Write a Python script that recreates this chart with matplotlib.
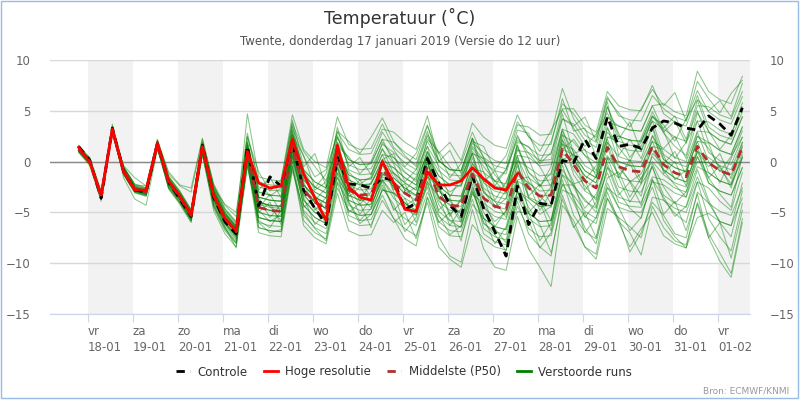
import pandas as pd
import matplotlib
matplotlib.use("Agg")
import matplotlib.pyplot as plt
from matplotlib.lines import Line2D
from matplotlib.patches import Rectangle

# tijdstippen (lokale tijd), elke 6 uur vanaf run 17-01 12 UTC
tijden = pd.date_range("2019-01-17 19:00", periods=60, freq="6h")
dagen = pd.date_range("2019-01-18", "2019-02-01", freq="D")
dag_labels = ["vr\n18-01", "za\n19-01", "zo\n20-01", "ma\n21-01", "di\n22-01",
              "wo\n23-01", "do\n24-01", "vr\n25-01", "za\n26-01", "zo\n27-01",
              "ma\n28-01", "di\n29-01", "wo\n30-01", "do\n31-01", "vr\n01-02"]

controle = [1.5, 0.1, -3.6, 3.3, -1.0, -2.8, -3.0, 1.8, -2.0, -3.7, -5.4, 1.6, -3.5, -5.9, -7.1, 1.5,
            -4.4, -1.5, -2.4, 1.8, -2.8, -4.6, -6.2, 0.4, -2.2, -2.3, -2.6, -1.6, -1.8, -4.7, -4.1, 0.3,
            -2.1, -4.3, -5.4, -1.4, -4.6, -6.9, -9.3, -2.4, -6.2, -4.1, -4.3, 0.1, -0.1, 2.2, 0.3, 4.4,
            1.5, 1.7, 1.3, 3.3, 4.0, 3.8, 3.3, 3.1, 4.5, 3.7, 2.6, 5.3]
hoge_resolutie = [1.4, -0.1, -3.3, 3.2, -1.0, -2.8, -2.8, 1.8, -1.9, -3.4, -5.2, 1.5, -3.3, -5.6, -6.8, 1.0,
                  -2.1, -2.6, -2.4, 2.2, -1.2, -3.6, -5.8, 1.6, -2.5, -3.5, -3.8, 0.0, -2.1, -4.7, -4.9, -1.0,
                  -2.3, -2.3, -1.9, -0.6, -1.7, -2.6, -2.8, -1.2]
middelste = [1.2, 0.0, -3.5, 3.1, -0.9, -2.7, -3.0, 1.7, -2.0, -3.5, -5.3, 1.4, -3.3, -5.6, -6.9, 1.0,
             -4.5, -4.8, -4.9, 1.6, -2.8, -4.0, -4.6, 0.4, -2.8, -3.3, -3.2, -0.8, -2.1, -3.1, -3.8, -0.5,
             -3.4, -4.3, -4.4, -1.2, -3.6, -4.4, -4.7, -0.9, -2.6, -3.4, -3.3, 1.2, -0.3, -1.9, -2.6, 1.4,
             -0.5, -0.9, -1.0, 1.5, -0.3, -1.1, -1.5, 1.5, -0.1, -0.9, -1.3, 1.4]

# verstoorde runs
run_01 = [1.4, 0.2, -3.3, 3.3, -0.6, -2.4, -2.7, 2.0, -1.5, -3.0, -4.8, 1.9, -2.5, -4.8, -6.1, 1.8, -3.0, -3.3, -3.4, 3.1, -0.8, -2.0, -2.6, 2.4, -0.3, -0.8, -0.7, 1.7, 0.9, -0.1, -0.8, 2.5, 0.1, -0.8, -0.9, 2.3, 0.4, -0.4, -0.7, 3.1, 2.8, 0.0, 2.0, 5.7, 4.7, 3.1, 2.4, 6.4, 4.5, 4.1, 4.0, 6.5, 5.2, 4.4, 4.0, 7.0, 4.9, 4.1, 3.7, 6.4]
run_02 = [1.0, -0.3, -3.7, 2.9, -1.2, -3.0, -3.3, 1.4, -2.6, -4.1, -5.9, 0.8, -4.3, -6.6, -7.9, 0.0, -6.0, -6.3, -6.4, 0.1, -5.3, -6.5, -7.1, -2.1, -5.8, -6.3, -6.2, -3.8, -5.6, -7.6, -8.3, -3.5, -7.4, -9.3, -9.9, -4.7, -8.6, -10.4, -10.7, -5.4, -8.6, -10.4, -12.3, -4.3, -5.8, -8.4, -9.1, -3.6, -5.6, -8.9, -7.0, -4.0, -5.3, -7.1, -7.5, -3.0, -4.1, -5.9, -6.3, -2.1]
run_03 = [1.3, 0.1, -3.4, 3.2, -0.9, -2.6, -2.9, 1.7, -1.8, -3.3, -5.1, 1.6, -2.8, -5.1, -6.5, 2.5, -2.0, -2.3, -2.4, 4.1, -0.5, 0.8, -2.5, 3.4, -0.8, -1.3, -1.2, 1.2, -0.2, -2.9, -1.5, 0.5, -2.9, -3.8, -3.9, -0.7, -1.0, -3.8, -2.0, 0.6, 0.4, -0.4, -0.3, 4.2, 3.7, 2.1, 1.4, 5.4, 2.8, 0.4, 1.9, 4.0, 0.7, -0.1, -0.5, 2.5, 1.9, 1.1, 0.7, 3.4]
run_04 = [1.2, 0.0, -3.5, 3.1, -1.1, -2.9, -3.2, 1.5, -1.7, -3.2, -5.0, 1.7, -3.8, -6.1, -7.4, 0.5, -5.5, -5.8, -5.9, 0.6, -2.3, -3.5, -4.1, 0.9, -1.3, -1.8, -1.7, 0.7, 0.4, -0.6, -1.3, 2.0, 0.1, -0.8, -0.9, 2.3, -1.1, -1.9, -2.2, 1.6, -1.1, -1.9, -1.8, 2.7, -0.3, -1.9, -2.6, 1.4, -1.6, -4.0, -2.2, -0.5, -3.3, -4.1, -4.5, -1.5, -4.1, -4.9, -5.3, -2.6]
run_05 = [1.5, 0.4, -2.9, 3.4, -0.5, -2.3, -2.4, 2.1, -1.4, -2.9, -4.7, 1.7, -3.0, -5.3, -6.6, 1.3, -3.5, -3.8, -3.9, 2.6, -1.3, -2.5, -3.1, 1.9, 0.2, -0.3, -0.2, 2.2, 1.9, 0.9, 0.2, 3.5, 0.8, 1.9, 0.1, 3.8, 2.4, 1.6, 1.3, 4.6, 2.4, 1.6, 1.7, 6.2, 3.0, 3.3, 0.5, 5.4, 2.5, 2.1, 2.0, 4.5, 2.9, 4.0, 1.8, 5.5, 5.4, 4.6, 4.2, 6.9]
run_06 = [1.1, 0.1, -3.4, 3.0, -0.8, -2.6, -2.9, 1.8, -2.3, -3.8, -5.6, 1.1, -4.1, -6.4, -7.7, 0.2, -6.5, -6.8, -6.9, -0.4, -5.8, -7.0, -7.6, -2.6, -4.8, -5.3, -5.2, -2.8, -3.1, -4.1, -4.8, -1.5, -2.5, -5.4, -3.6, -1.2, -4.6, -5.4, -5.7, -1.9, -5.6, -6.4, -6.3, -1.8, -5.3, -6.9, -7.6, -3.6, -6.0, -8.4, -6.6, -5.0, -7.3, -8.1, -8.5, -5.5, -5.1, -5.9, -6.3, -3.6]
run_07 = [1.4, 0.2, -3.5, 3.1, -0.7, -2.5, -2.8, 1.9, -2.0, -3.5, -5.3, 1.4, -3.0, -5.3, -6.6, 1.3, -4.0, -4.3, -4.4, 2.1, -1.8, -3.0, -3.6, 1.4, -1.5, -3.9, -2.0, -0.3, -2.6, -3.6, -4.3, -1.0, -4.9, -5.8, -5.9, -2.7, -6.1, -6.9, -7.2, -3.4, -5.0, -7.8, -6.0, -2.3, -2.3, -3.9, -4.6, -0.6, -1.6, 0.2, -1.8, 1.5, 1.2, 0.4, 0.0, 3.0, 2.9, 2.1, 1.7, 4.4]
run_08 = [0.9, -0.4, -3.9, 2.8, -1.3, -3.1, -3.4, 1.3, -2.5, -4.0, -5.8, 0.9, -3.5, -5.8, -7.1, 0.8, -4.0, -4.3, -4.4, 2.1, -2.8, -4.0, -4.6, 0.4, -3.8, -4.3, -4.2, -1.8, -3.2, -6.2, -4.9, -2.5, -6.4, -7.3, -7.4, -4.2, -5.6, -6.4, -6.7, -2.9, -3.6, -4.4, -4.3, 0.2, 0.7, -0.9, -1.6, 2.4, 2.5, 2.1, 2.0, 4.5, 3.3, 4.5, 2.2, 6.0, 2.9, 2.1, 1.7, 4.4]
run_09 = [1.2, 0.1, -3.4, 3.2, -0.5, -2.3, -2.6, 2.1, -1.0, -2.3, -2.6, 2.3, -2.3, -4.6, -5.9, 4.7, -1.5, -1.8, -1.9, 4.6, 1.2, 0.0, -0.6, 4.4, 1.7, 1.2, 1.3, 3.7, 1.4, 0.4, -0.3, 3.0, -0.6, -3.5, -1.5, 0.8, -3.1, -3.9, -4.2, -0.4, -3.6, -4.4, -4.3, 0.2, -2.0, -5.5, -4.0, -1.1, -4.0, -4.4, -4.5, -2.0, -2.3, -3.1, -3.5, -0.5, -1.1, -1.9, -2.3, 0.4]
run_10 = [1.3, -0.1, -3.6, 3.0, -1.0, -2.8, -3.1, 1.6, -2.2, -3.7, -5.5, 1.2, -3.7, -6.0, -7.3, 0.6, -5.5, -5.8, -5.9, 0.6, -4.3, -5.5, -6.1, -1.1, -2.9, -5.2, -3.6, -1.8, -2.1, -3.1, -3.8, -0.5, -2.4, -3.3, -3.4, -0.2, -1.6, -2.4, -2.7, 1.1, 0.9, 0.1, 0.2, 4.7, 0.8, 1.2, -1.5, 3.4, 0.0, -0.4, -0.5, 2.0, -0.8, -1.6, -2.0, 1.0, 0.4, -0.4, -0.8, 1.9]
run_11 = [1.0, -0.2, -3.7, 2.9, -0.9, -2.7, -3.0, 1.7, -1.8, -3.3, -5.1, 1.6, -3.3, -5.6, -6.9, 1.0, -4.5, -4.8, -4.9, 1.6, -2.3, -3.5, -4.1, 0.9, -1.8, -2.3, -2.2, 0.2, -0.6, -1.6, -2.3, 1.0, -1.4, -2.3, -2.4, 0.8, 0.3, -2.4, -0.8, 2.1, 1.4, 0.6, 0.7, 5.2, 5.2, 3.6, 2.9, 6.9, 5.5, 5.1, 5.0, 7.5, 4.7, 3.9, 3.5, 6.5, 3.4, 2.6, 2.2, 4.9]
run_12 = [1.4, 0.1, -3.4, 3.3, -0.8, -2.6, -2.9, 1.8, -2.4, -3.9, -5.7, 1.0, -4.5, -6.8, -8.1, -0.2, -7.0, -7.3, -7.4, -0.9, -4.8, -6.0, -6.6, -1.6, -3.3, -3.8, -3.7, -1.3, -1.6, -2.6, -3.3, 0.0, -3.5, -6.3, -4.6, -2.2, -6.6, -7.4, -7.7, -3.9, -7.1, -8.4, -9.3, -3.3, -6.3, -8.4, -9.6, -4.6, -5.5, -6.4, -7.5, -3.5, -3.8, -5.1, -6.0, -2.0, -2.6, -3.9, -4.8, -1.1]
run_13 = [1.2, 0.3, -3.0, 3.7, -0.6, -2.4, -2.7, 2.0, -1.5, -3.0, -4.8, 1.9, -2.7, -5.0, -6.3, 1.6, -3.5, -3.8, -3.9, 2.6, -0.8, -2.0, -2.6, 2.4, 0.2, -0.3, -0.2, 2.2, -0.1, -1.1, -1.8, 1.5, -2.4, -3.3, -3.4, -0.2, -2.0, -0.9, -3.0, 1.6, -1.6, -2.4, -2.3, 2.2, -1.3, -2.9, -3.6, 0.4, 0.0, -0.4, -0.5, 2.0, 1.3, 2.5, 0.3, 4.0, 3.9, 3.1, 2.7, 5.4]
run_14 = [1.1, -0.1, -3.6, 3.0, -1.1, -2.9, -3.2, 1.5, -2.0, -3.5, -5.3, 1.4, -3.1, -5.4, -6.7, 1.2, -4.5, -4.8, -4.9, 1.6, -3.3, -4.5, -5.1, -0.1, -4.3, -4.8, -4.7, -2.3, -4.6, -5.6, -6.3, -3.0, -5.4, -6.3, -6.4, -3.2, -4.1, -4.9, -5.2, -1.4, -2.1, -2.9, -2.8, 1.7, 1.2, -0.4, -1.1, 2.9, 1.5, 1.1, 1.0, 3.5, -1.2, 0.0, -2.4, 1.5, -2.1, -2.9, -3.3, -0.6]
run_15 = [1.3, 0.1, -3.4, 3.2, -0.7, -2.5, -2.8, 1.9, -1.7, -3.2, -5.0, 1.7, -2.9, -5.2, -6.5, 1.4, -2.5, -2.8, -2.9, 3.6, -1.3, -2.5, -3.1, 1.9, -1.8, -2.3, -2.2, 0.2, 0.8, -2.0, -0.8, 1.5, -0.4, -1.3, -1.4, 1.8, 0.9, 0.1, -0.2, 3.6, 3.4, 2.6, 2.7, 7.2, 4.2, 2.6, 1.9, 5.9, 0.6, 2.2, 0.3, 3.5, 0.2, -0.6, -1.0, 2.0, -1.1, -1.9, -2.3, 0.4]
run_16 = [1.1, -0.1, -3.6, 3.0, -1.2, -3.0, -3.3, 1.4, -2.7, -4.2, -6.0, 0.7, -4.8, -7.1, -8.4, -0.5, -5.5, -5.8, -5.9, 0.6, -4.3, -5.5, -6.1, -1.1, -5.3, -5.8, -5.7, -3.3, -5.6, -6.6, -7.3, -4.0, -8.4, -9.6, -10.4, -6.2, -7.6, -8.4, -8.7, -4.9, -5.1, -5.9, -5.8, -1.3, -2.2, -1.8, -4.5, 0.4, -2.5, -2.9, -3.0, -0.5, -3.8, -4.6, -5.0, -2.0, -5.6, -7.4, -8.8, -4.1]
run_17 = [1.2, 0.0, -3.4, 3.1, -0.9, -2.7, -3.0, 1.7, -1.9, -3.4, -5.2, 1.4, -3.3, -5.6, -6.9, 1.0, -4.2, -4.5, -4.6, 1.9, -2.8, -4.0, -4.6, 0.4, -2.3, -2.8, -2.7, -0.3, -1.1, -2.1, -2.8, 0.5, -2.9, -3.8, -3.9, -0.7, -3.6, -4.4, -4.7, -0.9, -2.2, -4.8, -3.0, 0.7, 0.2, -1.4, -2.1, 1.9, 0.5, 0.1, 0.0, 2.5, 0.2, -0.6, -1.0, 2.0, 1.8, -1.0, 0.5, 2.4]
run_18 = [1.4, 0.2, -3.2, 3.3, -0.8, -2.6, -2.9, 1.8, -1.7, -3.2, -5.0, 1.7, -2.7, -5.0, -6.3, 1.6, -3.5, -3.8, -3.9, 2.6, 0.6, -2.6, -1.2, 2.9, 1.2, 0.7, 0.8, 3.2, 2.9, 1.9, 1.2, 4.5, 0.1, -0.8, -0.9, 2.3, -2.1, -2.9, -3.2, 0.6, -3.4, -2.2, -4.2, 1.2, 0.7, -0.9, -1.6, 2.4, 2.0, 1.6, 1.5, 4.0, 3.2, 2.4, 2.0, 5.0, 1.9, 1.1, 0.7, 3.4]
run_19 = [1.0, -0.2, -3.7, 2.9, -1.0, -2.8, -3.1, 1.6, -2.2, -3.7, -5.5, 1.2, -3.8, -6.1, -7.4, 0.5, -5.0, -5.3, -5.4, 1.1, -3.8, -5.0, -5.6, -0.6, -3.3, -3.8, -3.7, -1.3, -1.1, -2.1, -2.8, 0.5, -1.4, -2.3, -2.4, 0.8, -2.6, -3.4, -3.7, 0.1, -5.0, -3.8, -5.8, -0.3, -3.8, -5.4, -6.1, -2.1, -4.5, -4.9, -5.0, -2.5, -5.8, -7.4, -8.5, -4.0, -7.1, -9.0, -11.0, -5.6]
run_20 = [1.3, 0.0, -3.5, 3.1, -0.9, -2.7, -3.0, 1.7, -2.0, -3.5, -5.3, 1.4, -3.6, -5.9, -7.2, 0.7, -4.0, -4.3, -4.4, 2.1, -1.8, -3.0, -3.6, 1.4, -1.3, -1.8, -1.7, 0.7, -1.6, -2.6, -3.3, 0.0, -3.9, -4.8, -4.9, -1.7, -3.7, -6.4, -4.8, -1.9, -2.6, -3.4, -3.3, 1.2, 2.2, 0.6, -0.1, 3.9, 3.5, 3.1, 3.0, 5.5, 3.0, 0.3, 1.9, 4.0, 0.9, 0.1, -0.3, 2.4]
run_21 = [1.2, 0.2, -3.3, 3.3, -0.7, -2.5, -2.8, 1.9, -1.6, -3.1, -4.9, 1.8, -2.4, -4.7, -6.0, 1.9, -3.0, -3.3, -3.4, 3.1, -2.3, -3.5, -4.1, 0.9, -3.8, -4.3, -4.2, -1.8, -3.6, -4.6, -5.3, -2.0, -3.4, -4.3, -4.4, -1.2, -1.7, -4.5, -2.8, 0.1, -0.6, -1.4, -1.3, 3.2, 2.7, 1.1, 0.4, 4.4, 3.5, 3.1, 3.0, 5.5, 5.7, 4.9, 4.5, 8.9, 6.9, 6.1, 5.7, 8.4]
run_22 = [1.1, -0.1, -3.6, 3.0, -1.1, -2.9, -3.2, 1.5, -2.3, -3.8, -5.6, 1.1, -3.7, -6.0, -7.3, 0.6, -6.5, -6.8, -6.9, -0.4, -6.3, -7.5, -8.1, -3.1, -6.8, -7.3, -7.2, -4.8, -6.0, -5.0, -7.6, -3.5, -5.9, -6.8, -6.9, -3.7, -7.1, -7.9, -8.2, -4.4, -6.6, -7.4, -7.3, -2.8, -3.3, -4.9, -5.6, -1.6, -1.0, -3.5, -1.6, 0.0, -1.3, -2.1, -2.5, 0.5, -2.1, -2.9, -3.3, -0.6]
run_23 = [1.4, 0.3, -3.2, 3.4, -0.8, -2.6, -2.9, 1.8, -1.9, -3.4, -5.2, 1.5, -3.4, -5.7, -7.0, 0.9, -4.5, -4.8, -4.9, 1.6, -2.8, -4.0, -4.6, 0.4, -3.2, -1.8, -3.5, -0.3, -0.6, -1.6, -2.3, 1.0, -0.9, -1.8, -1.9, 1.3, -0.1, -0.9, -1.2, 2.6, 0.3, -2.5, -0.5, 3.2, 0.2, -1.4, -2.1, 1.9, -1.5, -1.9, -2.0, 0.5, -0.8, -1.6, -2.0, 1.0, -0.5, 0.8, -1.7, 1.9]
run_24 = [1.0, -0.2, -3.3, 2.9, -1.1, -2.9, -3.2, 1.5, -1.8, -3.3, -5.1, 1.6, -2.8, -5.1, -6.4, 1.5, -5.0, -5.3, -5.4, 1.1, -3.8, -5.0, -5.6, -0.6, -4.8, -5.3, -5.2, -2.8, -3.1, -4.1, -4.8, -1.5, -4.8, -3.6, -5.8, -1.7, -5.6, -6.4, -6.7, -2.9, -5.1, -5.9, -5.8, -1.3, -3.5, -7.0, -5.5, -2.6, -3.5, -3.9, -4.0, -1.5, -1.8, -2.6, -3.0, 0.0, -0.1, -0.9, -1.3, 1.4]
run_25 = [1.3, 0.2, -3.4, 3.0, -0.4, -1.6, -2.4, 1.8, -2.1, -3.6, -5.0, 1.5, -3.0, -5.2, -6.4, 2.0, -2.8, -1.5, -3.6, 2.8, -0.9, -2.8, -2.0, 1.5, 0.5, -1.2, 0.0, 2.9, 1.2, -0.5, 0.8, 3.6, 0.0, 1.1, -1.2, 2.0, 1.5, -0.8, 0.6, 3.9, 2.5, 1.0, 3.1, 5.1, 3.3, 1.5, 2.7, 4.8, 2.2, 3.9, 1.0, 4.4, 3.6, 2.0, 4.2, 6.1, 5.0, 6.0, 4.4, 7.7]
run_26 = [1.1, -0.1, -3.5, 3.0, -0.9, -2.8, -3.0, 1.6, -2.1, -3.6, -5.4, 1.2, -4.2, -6.4, -8.5, 0.3, -5.0, -4.0, -6.2, 0.0, -3.5, -6.2, -5.0, -1.5, -5.0, -4.1, -6.5, -2.6, -4.2, -6.9, -5.5, -1.9, -6.0, -5.0, -7.8, -3.0, -5.5, -8.1, -6.4, -2.0, -4.5, -6.2, -9.0, -3.7, -6.5, -5.0, -7.5, -2.5, -4.5, -6.8, -5.5, -1.7, -5.2, -3.9, -6.8, -3.2, -7.5, -6.0, -9.5, -4.8]
run_27 = [1.2, 0.1, -3.5, 3.2, -0.8, -2.9, -2.9, 1.6, -2.2, -3.4, -5.4, 1.3, -3.2, -5.4, -6.8, 1.2, -3.5, -5.5, -4.2, 1.0, -2.0, -4.8, -3.5, 1.1, -3.5, -2.5, -4.0, 0.2, -2.8, -2.2, -4.5, -0.2, -2.5, -5.2, -3.8, 0.4, -3.0, -3.9, -5.5, -1.8, -1.5, -3.9, -2.5, 2.1, 0.5, -2.8, -1.5, 0.6, -1.3, -0.2, -2.2, 2.6, 0.6, -1.8, -0.8, 2.9, 0.0, -2.1, 0.3, 3.0]
run_28 = [1.4, 0.0, -3.6, 3.1, -1.6, -3.7, -4.3, 1.2, -1.9, -3.6, -5.2, 1.3, -3.4, -5.5, -7.0, 1.1, -4.8, -5.9, -5.2, 0.4, -3.2, -4.6, -5.8, 0.0, -2.5, -4.2, -3.0, -0.1, -3.0, -4.0, -5.2, -1.2, -4.2, -5.8, -6.5, -2.9, -6.0, -7.2, -8.8, -3.5, -5.8, -8.5, -7.0, -2.2, -4.0, -6.5, -8.1, -3.0, -5.9, -7.0, -9.2, -4.4, -6.5, -7.8, -8.2, -4.2, -7.5, -9.8, -11.4, -6.0]
run_29 = [1.3, 0.1, -3.3, 3.3, -0.7, -2.6, -2.8, 1.9, -1.8, -3.3, -4.9, 1.6, -2.6, -4.2, -5.0, 2.8, -2.0, -3.4, -2.6, 3.4, 0.5, -1.5, -0.8, 2.6, -0.5, 0.4, -1.3, 1.9, 0.4, -1.0, -2.0, 2.2, 1.0, -0.5, -1.8, 1.5, 0.2, -2.0, -0.8, 2.4, 0.8, -0.5, -2.5, 2.6, 1.9, 0.6, -0.9, 3.3, 1.4, 0.0, 2.3, 4.9, 2.8, 1.5, 0.6, 4.8, 3.0, 1.2, 2.6, 5.8]
run_30 = [1.2, -0.1, -3.4, 3.0, -1.1, -2.8, -3.2, 1.5, -2.4, -3.7, -5.6, 1.0, -3.9, -6.2, -7.6, 0.4, -5.8, -6.5, -4.8, 0.9, -4.5, -3.6, -6.3, -0.5, -3.9, -5.8, -4.6, -1.1, -2.5, -4.4, -3.6, 0.2, -3.6, -4.2, -6.0, -1.5, -4.3, -5.9, -4.9, -0.2, -3.5, -4.0, -6.8, -0.8, -2.5, -4.6, -3.2, -0.2, -3.0, -4.6, -5.6, -1.8, -3.5, -5.4, -4.4, -0.8, -3.8, -6.0, -7.4, -2.9]
run_31 = [1.6, 0.3, -3.1, 3.5, -0.6, -2.2, -2.6, 2.2, -1.2, -2.4, -3.0, 2.2, -2.2, -4.3, -5.4, 2.4, -1.0, -2.9, -1.8, 3.8, 1.0, -0.5, -1.9, 3.0, 2.0, 0.8, 2.4, 4.3, 2.0, 0.6, -0.5, 2.7, 0.8, -1.6, -0.2, 2.9, 0.4, -1.3, -2.6, 1.3, -1.0, -2.4, -1.1, 3.0, 0.9, -1.8, -0.4, 2.2, -0.6, -1.9, -3.4, 0.8, -0.2, 1.0, -1.3, 2.5, 1.3, -0.6, -2.2, 1.6]
run_32 = [1.0, -0.2, -3.6, 2.8, -1.3, -3.0, -3.4, 1.3, -2.6, -4.0, -5.8, 0.7, -4.4, -6.6, -8.0, -0.3, -6.0, -7.0, -6.7, -0.6, -5.0, -6.6, -7.8, -2.0, -4.0, -6.1, -5.2, -1.9, -4.8, -3.6, -6.0, -2.2, -5.2, -7.2, -6.3, -2.5, -5.0, -6.6, -8.0, -3.0, -3.9, -5.2, -4.4, 0.4, -2.4, -3.7, -5.0, -0.5, -3.3, -2.0, -4.3, -0.2, -2.5, -4.1, -3.0, 1.0, -1.6, -3.2, -4.5, 0.6]
run_33 = [1.2, 0.0, -3.4, 3.1, -0.9, -2.6, -3.1, 1.7, -2.0, -3.3, -5.2, 1.5, -3.1, -5.5, -6.6, 1.3, -3.9, -4.4, -5.8, 2.0, -1.5, -3.3, -4.8, 0.8, -1.0, -2.2, -1.5, 1.3, -1.2, -2.8, -3.4, 0.6, -1.9, -3.0, -2.2, 1.0, -0.5, -1.9, -3.1, 1.9, 1.5, -0.2, 0.9, 4.2, 3.5, 4.4, 2.0, 6.2, 4.8, 3.4, 5.2, 7.1, 5.5, 6.8, 4.0, 7.9, 6.2, 4.8, 6.7, 8.0]
run_34 = [1.3, 0.1, -3.6, 3.2, -0.9, -2.7, -3.0, 1.6, -2.0, -3.6, -5.3, 1.4, -3.2, -5.7, -7.0, 0.8, -4.6, -3.2, -5.0, 1.4, -3.0, -3.8, -2.6, 0.7, -2.2, -3.6, -4.5, -1.5, -2.0, -3.2, -2.5, 0.9, -2.6, -3.9, -5.2, -1.3, -2.8, -4.6, -3.6, 0.4, -2.0, -3.4, -4.5, 1.8, -0.8, -2.4, -3.8, 0.3, -0.3, -2.0, -1.2, 1.2, -0.9, -2.3, -3.5, 0.5, -1.6, -0.4, -2.6, 0.9]

runs = [run_01, run_02, run_03, run_04, run_05, run_06, run_07, run_08, run_09, run_10, run_11, run_12,
        run_13, run_14, run_15, run_16, run_17, run_18, run_19, run_20, run_21, run_22, run_23, run_24,
        run_25, run_26, run_27, run_28, run_29, run_30, run_31, run_32, run_33, run_34]

grijs = "#666666"
groen = "#008000"
bruin = "#b03030"

fig = plt.figure(figsize=(8, 4), dpi=100)
ax = fig.add_axes([0.0625, 0.215, 0.875, 0.635])

# dagbanden
een_dag = pd.Timedelta(days=1)
for d in dagen[::2]:
    ax.axvspan(d, d + een_dag, color="#f2f2f2", lw=0, zorder=0)

ax.axhline(0, color="#8a8a8a", lw=1, zorder=1)

for r in runs:
    ax.plot(tijden, r, color=groen, lw=0.75, alpha=0.45, zorder=2)
ax.plot(tijden, controle, color="black", lw=2, ls=(0, (3, 2)), zorder=3)
ax.plot(tijden, middelste, color=bruin, lw=2, ls=(0, (3, 2)), zorder=4)
ax.plot(tijden[:len(hoge_resolutie)], hoge_resolutie, color="#ff0000", lw=2, zorder=5)

ax.set_xlim(pd.Timestamp("2019-01-17 03:44"), pd.Timestamp("2019-02-01 17:04"))
ax.set_ylim(-15, 10)
ax.set_yticks([-15, -10, -5, 0, 5, 10])
ax.yaxis.grid(True, color="#d8d8d8", lw=1)
ax.set_axisbelow(True)

ax.set_xticks(dagen)
ax.set_xticklabels(dag_labels, ha="left", color=grijs, fontsize=8.5, linespacing=1.25)
for lab in ax.get_xticklabels():
    lab.set_multialignment("left")
ax.tick_params(axis="x", length=6, color="#ccd6eb", pad=2)
ax.tick_params(axis="y", length=0, labelsize=8.5, labelcolor=grijs, labelright=True, pad=14)

for s in ["top", "left", "right"]:
    ax.spines[s].set_visible(False)
ax.spines["bottom"].set_color("#ccd6eb")

fig.text(0.5, 0.955, "Temperatuur (˚C)", ha="center", va="center", fontsize=12.5, color="#333333")
fig.text(0.5, 0.897, "Twente, donderdag 17 januari 2019 (Versie do 12 uur)", ha="center", va="center",
         fontsize=8.5, color="#555555")
fig.text(0.986, 0.022, "Bron: ECMWF/KNMI", ha="right", va="center", fontsize=6.5, color="#999999")

handles = [Line2D([], [], color="black", lw=2, ls=(0, (3, 2))),
           Line2D([], [], color="#ff0000", lw=2),
           Line2D([], [], color=bruin, lw=2, ls=(0, (3, 2))),
           Line2D([], [], color=groen, lw=2)]
fig.legend(handles, ["Controle", "Hoge resolutie", "Middelste (P50)", "Verstoorde runs"],
           loc="center", bbox_to_anchor=(0.505, 0.07), ncol=4, frameon=False, fontsize=8.5,
           handlelength=1.2, columnspacing=1.4, handletextpad=0.6, labelcolor="#333333")

fig.patches.append(Rectangle((0.001, 0.004), 0.996, 0.994, transform=fig.transFigure,
                             fill=False, ec="#99bbe8", lw=1))

fig.savefig("out.png", dpi=100)
